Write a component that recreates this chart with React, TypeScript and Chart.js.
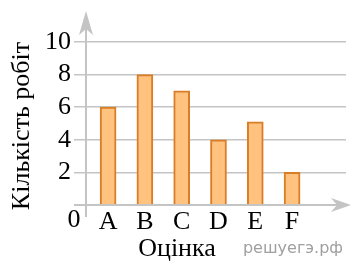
import React, { useEffect, useRef } from "react";
import { Chart, registerables } from "chart.js";

Chart.register(...registerables);

const categories = ["A", "B", "C", "D", "E", "F"];
const values = [6, 8, 7, 4, 5.1, 2];
const yTicks = [0, 2, 4, 6, 8, 10];
const yTitle = "Кількість робіт";
const xTitle = "Оцінка";
const watermark = "решуегэ.рф";

const SERIF = "Liberation Serif";
const AXIS = "#c4c4c4";

const decor = {
  id: "decor",
  afterDraw(chart: any) {
    const ctx = chart.ctx;
    const xs = chart.scales.x;
    const ys = chart.scales.y;
    const ox = xs.left;
    const oy = ys.getPixelForValue(0);
    const right = chart.width;
    ctx.save();
    ctx.strokeStyle = AXIS;
    ctx.fillStyle = AXIS;
    ctx.lineWidth = 2;
    ctx.beginPath();
    ctx.moveTo(ox, oy + 12);
    ctx.lineTo(ox, 24);
    ctx.stroke();
    ctx.beginPath();
    ctx.moveTo(ox, 11);
    ctx.lineTo(ox + 7, 35);
    ctx.lineTo(ox, 29);
    ctx.lineTo(ox - 7, 35);
    ctx.closePath();
    ctx.fill();
    ctx.beginPath();
    ctx.moveTo(ox - 12, oy);
    ctx.lineTo(right - 12, oy);
    ctx.stroke();
    ctx.beginPath();
    ctx.moveTo(right, oy);
    ctx.lineTo(right - 20, oy - 7);
    ctx.lineTo(right - 14, oy);
    ctx.lineTo(right - 20, oy + 7);
    ctx.closePath();
    ctx.fill();
    ctx.fillStyle = "#000";
    ctx.font = "26px " + SERIF;
    ctx.textAlign = "center";
    ctx.textBaseline = "middle";
    ctx.fillText("0", ox - 12, oy + 15);
    ctx.fillText(xTitle, 177, 249);
    ctx.save();
    ctx.translate(22, 126);
    ctx.rotate(-Math.PI / 2);
    ctx.fillText(yTitle, 0, 0);
    ctx.restore();
    ctx.fillStyle = "#a0a0a0";
    ctx.font = "16px DejaVu Sans";
    ctx.textAlign = "right";
    ctx.fillText(watermark, 343, 249);
    ctx.restore();
  },
};

export default function App() {
  const ref = useRef<HTMLCanvasElement>(null);
  useEffect(() => {
    document.body.style.margin = "0";
    const chart = new Chart(ref.current!, {
      type: "bar",
      data: {
        datasets: [
          {
            data: values.map((v, i) => ({ x: i, y: v })) as any,
            backgroundColor: "#ffc27f",
            borderColor: "#d97e27",
            borderWidth: 2,
            barThickness: 16,
          },
        ],
      },
      options: {
        animation: false,
        responsive: false,
        events: [],
        layout: { padding: { top: 42, right: 5, left: 0, bottom: 0 } },
        plugins: { legend: { display: false }, tooltip: { enabled: false } },
        scales: {
          x: {
            type: "linear",
            offset: false,
            min: -0.6,
            max: 6.465,
            grid: { display: false, drawTicks: false, offset: false },
            border: { display: false },
            afterBuildTicks: (s: any) => {
              s.ticks = categories.map((_, i) => ({ value: i }));
            },
            afterFit: (s: any) => {
              s.height = 59;
            },
            ticks: {
              padding: 2,
              color: "#000",
              font: { family: SERIF, size: 26 },
              maxRotation: 0,
              autoSkip: false,
              callback: (v: any) => categories[v as number] ?? "",
            },
          },
          y: {
            type: "linear",
            min: 0,
            max: 10,
            grid: { color: AXIS, lineWidth: 1.5, tickLength: 12, drawTicks: true },
            border: { display: false },
            afterBuildTicks: (s: any) => {
              s.ticks = yTicks.map((v) => ({ value: v }));
            },
            afterFit: (s: any) => {
              s.width = 86;
            },
            ticks: {
              padding: 3,
              autoSkip: false,
              color: "#000",
              font: { family: SERIF, size: 26 },
              callback: (v: any) => (v === 0 ? "" : String(v)),
            },
          },
        },
      },
      plugins: [decor],
    });
    return () => chart.destroy();
  }, []);
  return (
    <div style={{ position: "absolute", left: 0, top: 0, width: 351, height: 264 }}>
      <canvas ref={ref} width={351} height={264} style={{ width: 351, height: 264 }} />
    </div>
  );
}
